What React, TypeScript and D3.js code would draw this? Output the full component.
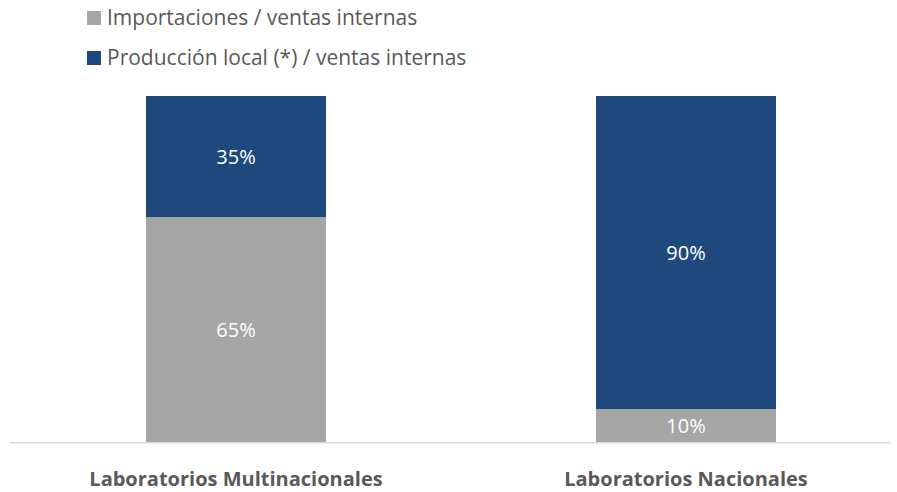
import React from "react";
import * as d3 from "d3";

const categories = ["Laboratorios Multinacionales", "Laboratorios Nacionales"];
const importaciones = [65, 9.5];
const produccion = [35, 90.5];
const importLabels = ["65%", "10%"];
const prodLabels = ["35%", "90%"];
const seriesNames = ["Importaciones / ventas internas", "Producción local (*) / ventas internas"];
const colors = ["#a6a6a6", "#1f497d"];

const W = 897;
const H = 492;

export default function App() {
  const x = d3.scaleBand<string>().domain(categories).range([11, 911]).paddingInner(0.6).paddingOuter(0.3);
  const y = d3.scaleLinear().domain([0, 100]).range([442, 96]);
  const font = "'Open Sans', sans-serif";
  const textColor = "#595959";

  return (
    <svg width={W} height={H} style={{ position: "absolute", left: 0, top: 0, fontFamily: font }}>
      <rect width={W} height={H} fill="#fff" />
      {seriesNames.map((n, i) => (
        <g key={n} transform={`translate(87, ${11 + i * 40})`}>
          <rect width={14} height={14} fill={colors[i]} />
          <text x={20} y={14} fontSize={21} fill={textColor}>{n}</text>
        </g>
      ))}
      {categories.map((c, i) => {
        const x0 = x(c)!;
        const bw = x.bandwidth();
        const imp = importaciones[i];
        const prod = produccion[i];
        return (
          <g key={c}>
            <rect x={x0} y={y(imp)} width={bw} height={y(0) - y(imp)} fill={colors[0]} />
            <rect x={x0} y={y(imp + prod)} width={bw} height={y(imp) - y(imp + prod)} fill={colors[1]} />
            <text x={x0 + bw / 2} y={(y(0) + y(imp)) / 2} dy="0.36em" textAnchor="middle" fontSize={20} fill="#fff">{importLabels[i]}</text>
            <text x={x0 + bw / 2} y={(y(imp) + y(imp + prod)) / 2} dy="0.36em" textAnchor="middle" fontSize={20} fill="#fff">{prodLabels[i]}</text>
            <text x={x0 + bw / 2} y={486} textAnchor="middle" fontSize={20} fontWeight="bold" fill={textColor}>{c}</text>
          </g>
        );
      })}
      <line x1={10} x2={890} y1={y(0) + 0.75} y2={y(0) + 0.75} stroke="#d9d9d9" strokeWidth={1.5} />
    </svg>
  );
}
